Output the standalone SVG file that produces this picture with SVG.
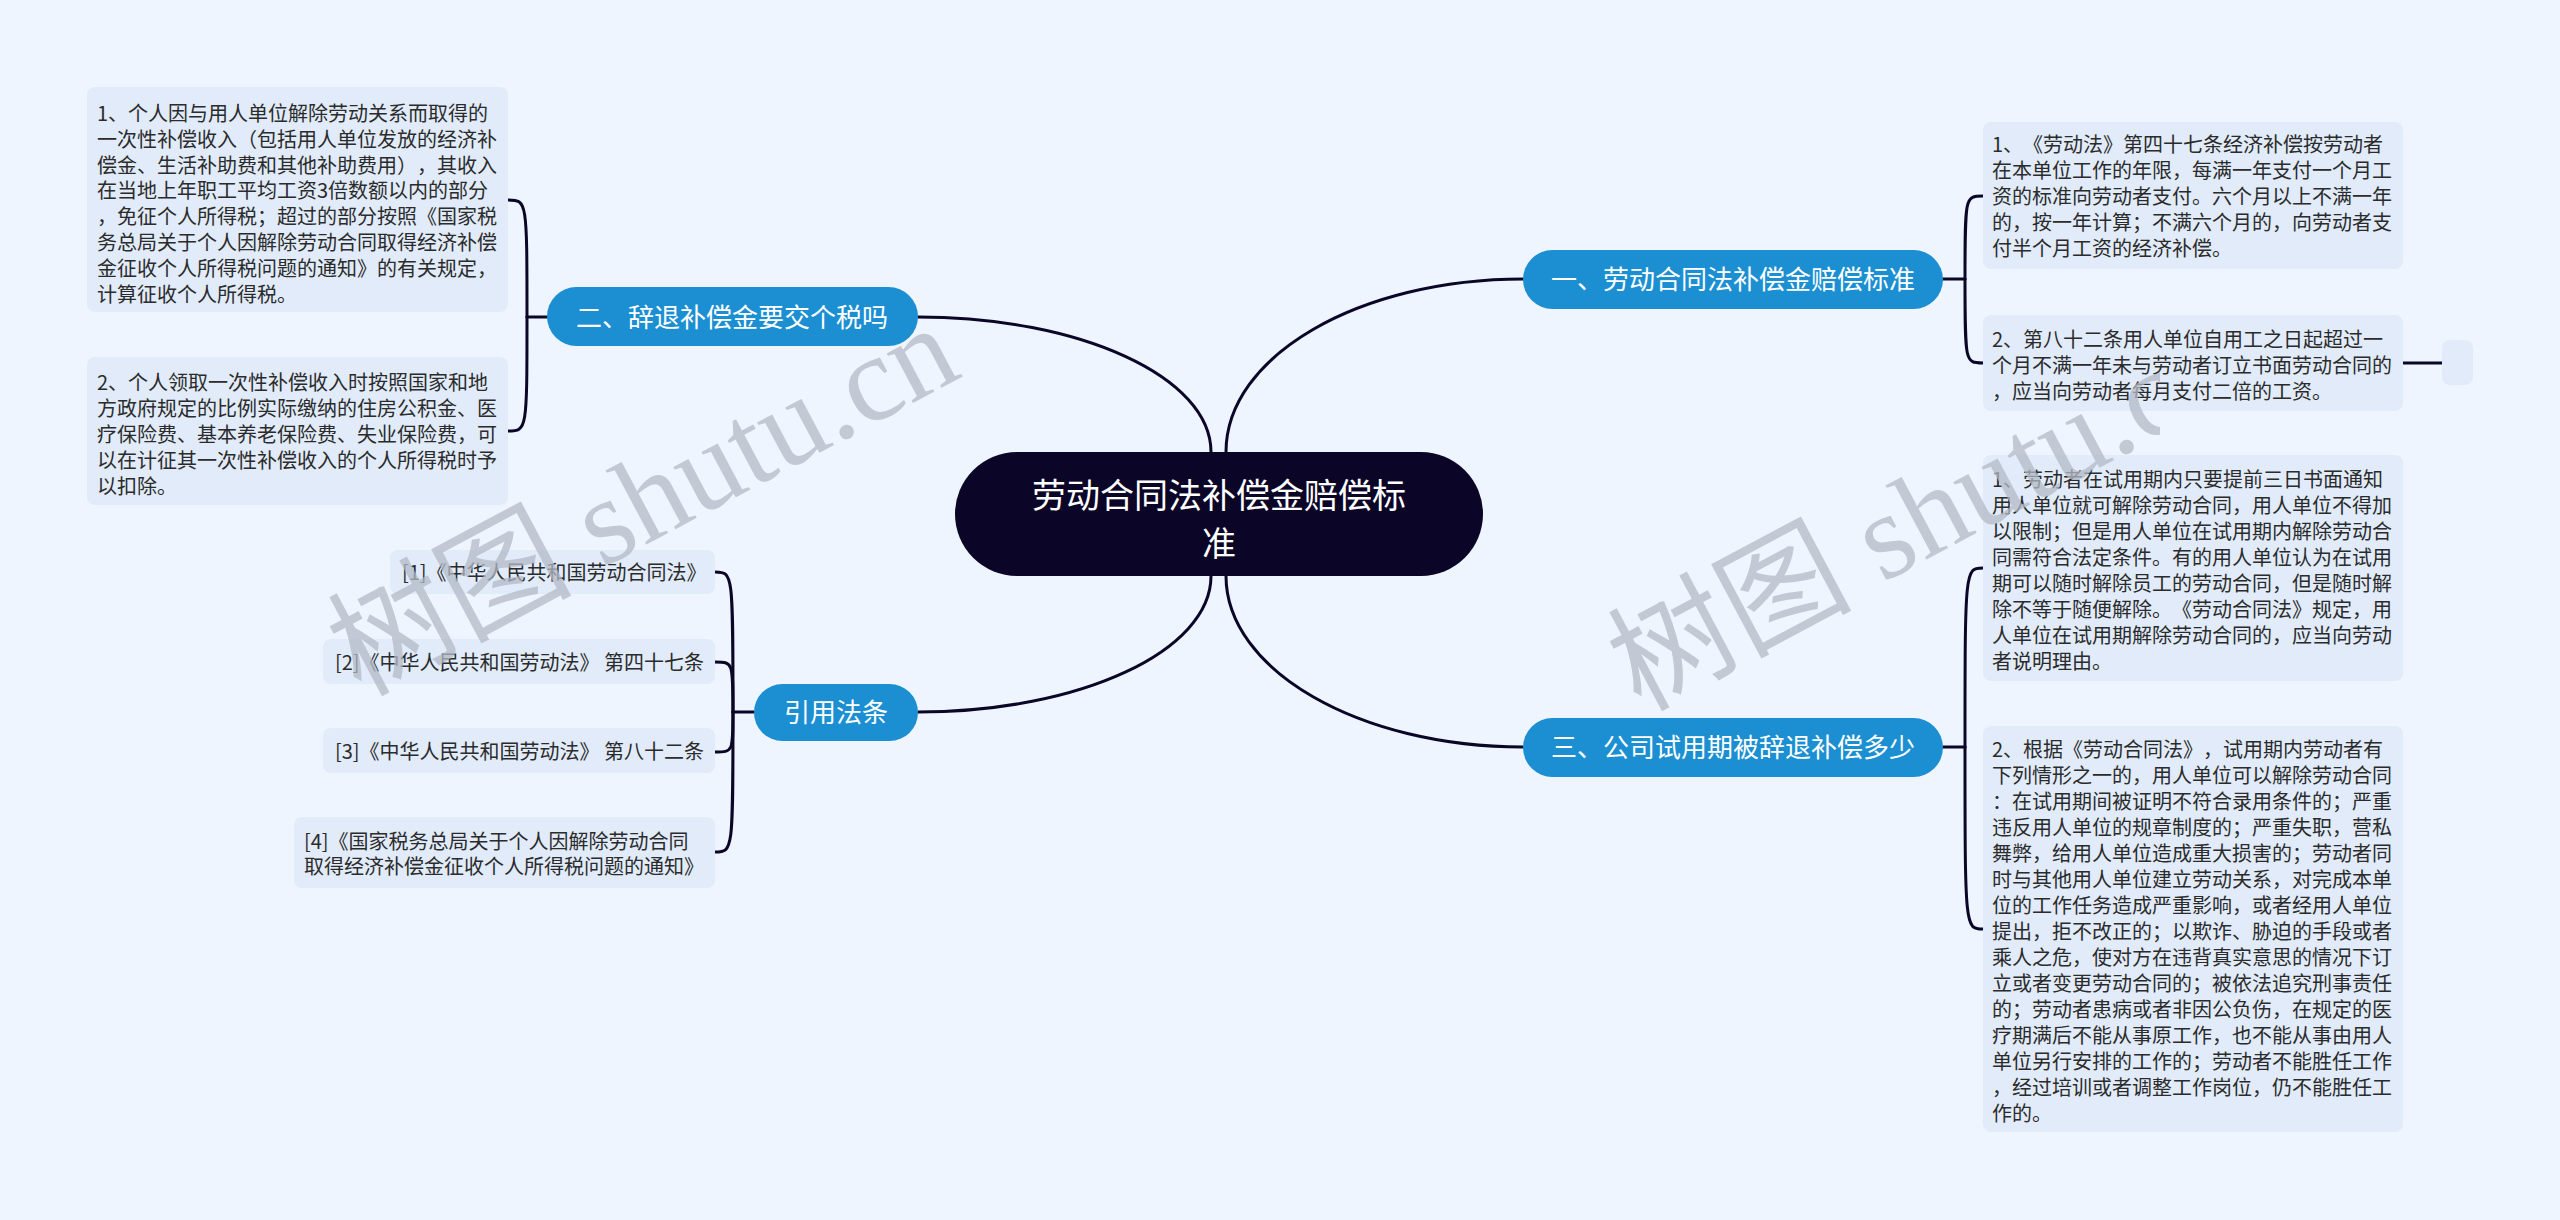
<svg xmlns="http://www.w3.org/2000/svg" width="2560" height="1220" viewBox="0 0 2560 1220">
<defs>
<style>
.bg{fill:#eef5fe}
.conn{fill:none;stroke:#0b0627;stroke-width:3;stroke-linecap:round}
.root{fill:#0b0627}
.rootT{font-family:"Noto Sans CJK SC","Noto Sans",sans-serif;font-size:34px;fill:#ffffff;text-anchor:middle}
.br{fill:#1c8fd2}
.brT{font-family:"Noto Sans CJK SC","Noto Sans",sans-serif;font-size:26px;fill:#ffffff;text-anchor:middle}
.leaf{fill:#e1ebfa}
.lT{font-family:"Noto Sans CJK SC","Noto Sans",sans-serif;font-size:20px;fill:#2b2b2b;text-spacing-trim:space-all}
.wm{font-family:"Liberation Serif","Noto Sans CJK SC",serif;font-size:122px;fill:#b4bac6;opacity:0.75}
</style>
<clipPath id="wmclip"><rect x="0" y="0" width="2160" height="1220"/></clipPath>
</defs>
<rect class="bg" x="0" y="0" width="2560" height="1220"/>

<g id="connectors">
<path class="conn" d="M1226 514 L1226 452 C1226 356 1359 279 1523 279"/>
<path class="conn" d="M1211 514 L1211 452 C1211 377 1080 317 918 317"/>
<path class="conn" d="M1226 514 L1226 576 C1226 670 1359 747 1523 747"/>
<path class="conn" d="M1211 514 L1211 576 C1211 651 1080 712 918 712"/>
<path class="conn" d="M1943 279 H1965"/>
<path class="conn" d="M1965 279 C1965 196 1965 196 1983 196"/>
<path class="conn" d="M1965 279 C1965 363 1965 363 1983 363"/>
<path class="conn" d="M2403 363 H2442"/>
<path class="conn" d="M1943 747 H1965"/>
<path class="conn" d="M1965 747 C1965 568 1965 568 1983 568"/>
<path class="conn" d="M1965 747 C1965 929 1965 929 1983 929"/>
<path class="conn" d="M547 317 H527"/>
<path class="conn" d="M527 317 C527 200 527 200 508 200"/>
<path class="conn" d="M527 317 C527 431 527 431 508 431"/>
<path class="conn" d="M754 712 H733"/>
<path class="conn" d="M733 712 C733 572 733 572 715 572"/>
<path class="conn" d="M733 712 C733 662 733 662 715 662"/>
<path class="conn" d="M733 712 C733 752 733 752 715 752"/>
<path class="conn" d="M733 712 C733 852 733 852 715 852"/>
</g>

<g id="root">
<rect class="root" x="955" y="452" width="528" height="124" rx="62"/>
<text class="rootT" x="1219" y="508">劳动合同法补偿金赔偿标</text>
<text class="rootT" x="1219" y="556">准</text>
</g>

<g id="b1">
<rect class="br" x="1523" y="250" width="420" height="59" rx="29.5"/>
<text class="brT" x="1733" y="289">一、劳动合同法补偿金赔偿标准</text>
</g>
<g id="b2">
<rect class="br" x="547" y="287" width="371" height="59" rx="29.5"/>
<text class="brT" x="732" y="327">二、辞退补偿金要交个税吗</text>
</g>
<g id="b3">
<rect class="br" x="1523" y="718" width="420" height="59" rx="29.5"/>
<text class="brT" x="1733" y="757">三、公司试用期被辞退补偿多少</text>
</g>
<g id="b4">
<rect class="br" x="754" y="684" width="164" height="57" rx="28.5"/>
<text class="brT" x="836" y="722">引用法条</text>
</g>

<g id="r1">
<rect class="leaf" x="1983" y="122" width="420" height="147" rx="8"/>
<text class="lT" x="1992" y="152">1、《劳动法》第四十七条经济补偿按劳动者<tspan x="1992" dy="26">在本单位工作的年限，每满一年支付一个月工</tspan><tspan x="1992" dy="26">资的标准向劳动者支付。六个月以上不满一年</tspan><tspan x="1992" dy="26">的，按一年计算；不满六个月的，向劳动者支</tspan><tspan x="1992" dy="26">付半个月工资的经济补偿。</tspan></text>
</g>
<g id="r2">
<rect class="leaf" x="1983" y="315" width="420" height="96" rx="8"/>
<text class="lT" x="1992" y="347">2、第八十二条用人单位自用工之日起超过一<tspan x="1992" dy="26">个月不满一年未与劳动者订立书面劳动合同的</tspan><tspan x="1992" dy="26">，应当向劳动者每月支付二倍的工资。</tspan></text>
</g>
<g id="r2child">
<rect class="leaf" x="2442" y="340" width="31" height="45" rx="8"/>
</g>
<g id="r3">
<rect class="leaf" x="1983" y="455" width="420" height="226" rx="8"/>
<text class="lT" x="1992" y="487">1、劳动者在试用期内只要提前三日书面通知<tspan x="1992" dy="26">用人单位就可解除劳动合同，用人单位不得加</tspan><tspan x="1992" dy="26">以限制；但是用人单位在试用期内解除劳动合</tspan><tspan x="1992" dy="26">同需符合法定条件。有的用人单位认为在试用</tspan><tspan x="1992" dy="26">期可以随时解除员工的劳动合同，但是随时解</tspan><tspan x="1992" dy="26">除不等于随便解除。《劳动合同法》规定，用</tspan><tspan x="1992" dy="26">人单位在试用期解除劳动合同的，应当向劳动</tspan><tspan x="1992" dy="26">者说明理由。</tspan></text>
</g>
<g id="r4">
<rect class="leaf" x="1983" y="726" width="420" height="406" rx="8"/>
<text class="lT" x="1992" y="757">2、根据《劳动合同法》，试用期内劳动者有<tspan x="1992" dy="26">下列情形之一的，用人单位可以解除劳动合同</tspan><tspan x="1992" dy="26">：在试用期间被证明不符合录用条件的；严重</tspan><tspan x="1992" dy="26">违反用人单位的规章制度的；严重失职，营私</tspan><tspan x="1992" dy="26">舞弊，给用人单位造成重大损害的；劳动者同</tspan><tspan x="1992" dy="26">时与其他用人单位建立劳动关系，对完成本单</tspan><tspan x="1992" dy="26">位的工作任务造成严重影响，或者经用人单位</tspan><tspan x="1992" dy="26">提出，拒不改正的；以欺诈、胁迫的手段或者</tspan><tspan x="1992" dy="26">乘人之危，使对方在违背真实意思的情况下订</tspan><tspan x="1992" dy="26">立或者变更劳动合同的；被依法追究刑事责任</tspan><tspan x="1992" dy="26">的；劳动者患病或者非因公负伤，在规定的医</tspan><tspan x="1992" dy="26">疗期满后不能从事原工作，也不能从事由用人</tspan><tspan x="1992" dy="26">单位另行安排的工作的；劳动者不能胜任工作</tspan><tspan x="1992" dy="26">，经过培训或者调整工作岗位，仍不能胜任工</tspan><tspan x="1992" dy="26">作的。</tspan></text>
</g>

<g id="l1">
<rect class="leaf" x="87" y="87" width="421" height="225" rx="8"/>
<text class="lT" x="97" y="121">1、个人因与用人单位解除劳动关系而取得的<tspan x="97" dy="25.8">一次性补偿收入（包括用人单位发放的经济补</tspan><tspan x="97" dy="25.8">偿金、生活补助费和其他补助费用），其收入</tspan><tspan x="97" dy="25.8">在当地上年职工平均工资3倍数额以内的部分</tspan><tspan x="97" dy="25.8">，免征个人所得税；超过的部分按照《国家税</tspan><tspan x="97" dy="25.8">务总局关于个人因解除劳动合同取得经济补偿</tspan><tspan x="97" dy="25.8">金征收个人所得税问题的通知》的有关规定，</tspan><tspan x="97" dy="25.8">计算征收个人所得税。</tspan></text>
</g>
<g id="l2">
<rect class="leaf" x="87" y="357" width="421" height="148" rx="8"/>
<text class="lT" x="97" y="390">2、个人领取一次性补偿收入时按照国家和地<tspan x="97" dy="26">方政府规定的比例实际缴纳的住房公积金、医</tspan><tspan x="97" dy="26">疗保险费、基本养老保险费、失业保险费，可</tspan><tspan x="97" dy="26">以在计征其一次性补偿收入的个人所得税时予</tspan><tspan x="97" dy="26">以扣除。</tspan></text>
</g>

<g id="c1">
<rect class="leaf" x="390" y="550" width="325" height="44" rx="8"/>
<text class="lT" x="402" y="580">[1]《中华人民共和国劳动合同法》</text>
</g>
<g id="c2">
<rect class="leaf" x="323" y="639" width="392" height="45" rx="8"/>
<text class="lT" x="335" y="670">[2]《中华人民共和国劳动法》 第四十七条</text>
</g>
<g id="c3">
<rect class="leaf" x="323" y="728" width="392" height="45" rx="8"/>
<text class="lT" x="335" y="759">[3]《中华人民共和国劳动法》 第八十二条</text>
</g>
<g id="c4">
<rect class="leaf" x="294" y="817" width="421" height="71" rx="8"/>
<text class="lT" x="304" y="849">[4]《国家税务总局关于个人因解除劳动合同<tspan x="304" dy="25">取得经济补偿金征收个人所得税问题的通知》</tspan></text>
</g>

<g id="watermark">
<text class="wm" x="360" y="697" transform="rotate(-28 360 697)">树图 shutu.cn</text>
<g clip-path="url(#wmclip)">
<text class="wm" x="1640" y="712" transform="rotate(-28 1640 712)">树图 shutu.cn</text>
</g>
</g>
</svg>
